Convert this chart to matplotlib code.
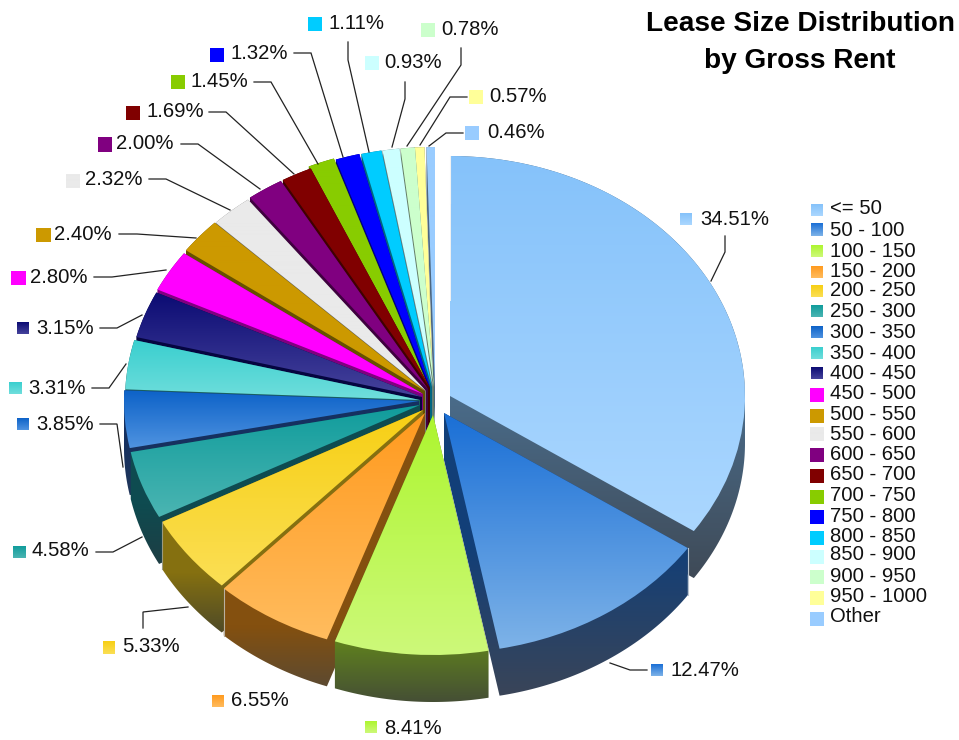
import numpy as np
import matplotlib
matplotlib.use("Agg")
import matplotlib.pyplot as plt
from matplotlib.colors import to_rgb
from matplotlib.patches import Polygon

# ---- data ----
categories = ["<= 50", "50 - 100", "100 - 150", "150 - 200", "200 - 250", "250 - 300", "300 - 350",
              "350 - 400", "400 - 450", "450 - 500", "500 - 550", "550 - 600", "600 - 650", "650 - 700",
              "700 - 750", "750 - 800", "800 - 850", "850 - 900", "900 - 950", "950 - 1000", "Other"]
shares = [34.51, 12.47, 8.41, 6.55, 5.33, 4.58, 3.85, 3.31, 3.15, 2.80, 2.40, 2.32, 2.00, 1.69,
          1.45, 1.32, 1.11, 0.93, 0.78, 0.57, 0.46]
title_lines = ["Lease Size Distribution", "by Gross Rent"]

# ---- style: surface gradient (top, bottom) and side wall gradient ----
face_top = ["#85C2FA", "#1A6FD6", "#ADF52F", "#FF9A1E", "#F7CF14", "#109C9C", "#0D62C8", "#3ACFCF", "#0B0B73",
            "#FF00FF", "#CC9900", "#EAEAEA", "#800080", "#800000", "#88CC00", "#0000FF", "#00CCFF", "#CCFFFF",
            "#CCFFCC", "#FFFF99", "#99CCFF"]
face_bot = ["#ABD7FF", "#7EB3E8", "#CDF97A", "#FFBC5E", "#FBDF55", "#4BB5B2", "#4F93E0", "#70DEDC", "#46439C",
            "#FF00FF", "#CC9900", "#EAEAEA", "#800080", "#800000", "#88CC00", "#0000FF", "#00CCFF", "#CCFFFF",
            "#CCFFCC", "#FFFF99", "#99CCFF"]
wall_top = ["#4A6C8A", "#123F78", "#5F801E", "#84500F", "#857010", "#0E4B50", "#153060", "#1A6060", "#050540",
            "#800080", "#665000", "#777777", "#400040", "#400000", "#446600", "#000080", "#006680", "#667F7F",
            "#668066", "#808050", "#4C6680"]
wall_bot = ["#3F4A57", "#3A4558", "#454F35", "#5D4A30", "#4E4A28", "#1E3E44", "#20365A", "#1A6060", "#050540",
            "#800080", "#665000", "#777777", "#400040", "#400000", "#446600", "#000080", "#006680", "#667F7F",
            "#668066", "#808050", "#4C6680"]
wall_span = [182, 150, 60, 60, 60, 60, 60, 60, 60, 60, 60, 60, 60, 60, 60, 60, 60, 60, 60, 60, 60]

# ---- layout, in pixels of the 959x740 image ----
W, H = 959, 740
CX, CY, RX, RY = 430, 387, 295, 240
DEPTH = 47
apex = [(450, 396), (444, 413), (433, 415), (425, 413), (423, 410), (420, 405), (419, 401), (420, 400),
        (422, 397), (423, 394), (425, 391), (426, 391), (428, 389), (430, 388), (428, 386), (430, 387),
        (432, 387), (433, 387), (434, 387), (433, 387), (435, 387)]
label_swatch = [(686, 219), (657, 670), (371, 727), (218, 701), (109, 648), (19, 552), (23, 424), (15, 388),
                (23, 328), (18, 278), (43, 235), (73, 181), (105, 145), (133, 113), (178, 82), (217, 55),
                (315, 24), (372, 63), (428, 30), (476, 97), (472, 133)]
label_text = [(700, 219), (670, 670), (384, 728), (231, 700), (122, 647), (32, 551), (36, 424), (28, 388),
              (36, 328), (30, 277), (54, 234), (85, 179), (116, 143), (146, 111), (191, 81), (230, 53),
              (328, 23), (384, 62), (441, 29), (489, 96), (487, 132)]
leaders = [[(725, 236), (725, 252), (711, 281)], [(610, 663), (630, 670), (647, 670)], None, None,
           [(143, 628), (143, 612), (188, 607)], [(96, 552), (113, 552), (142, 537)],
           [(100, 424), (117, 424), (123, 467)], [(92, 388), (109, 388), (126, 364)],
           [(100, 328), (117, 328), (142, 315)], [(94, 277), (112, 277), (166, 270)],
           [(119, 234), (137, 234), (196, 238)], [(149, 179), (166, 179), (230, 210)],
           [(181, 144), (198, 144), (260, 189)], [(209, 112), (226, 112), (294, 174)],
           [(254, 82), (271, 82), (318, 164)], [(294, 53), (311, 53), (343, 157)],
           [(348, 42), (348, 60), (369, 152)], [(405, 82), (405, 99), (392, 147)],
           [(461, 48), (461, 65), (407, 146)], [(467, 97), (450, 97), (420, 145)],
           [(463, 133), (446, 133), (429, 146)]]
legend_text_y = [209, 230, 251, 271, 290, 311, 332, 353, 373, 393, 414, 434, 454, 474, 495, 516, 536, 555, 576, 597, 617]
legend_swatch_y = [210, 230, 251, 272, 291, 311, 332, 353, 373, 395, 416, 434, 455, 476, 497, 517, 538, 557, 577, 598, 619]
LEGEND_SW_X, LEGEND_TX_X = 817, 830
FONT = "Liberation Sans"
# slices whose cut corner shows a thin light seam: (slice index, use end angle, colour)
seams = [(0, True, "#F2F2F2"), (1, True, "#B8C4D0"), (3, False, "#B8B0A0"), (4, False, "#9A9A80")]


def ux(px):
    return (np.asarray(px, float) - CX) / RX


def uy(py):
    return (CY - np.asarray(py, float)) / RY


def lerp_rows(c0, c1, y_px, y0, y1):
    t = np.clip((y_px - y0) / max(y1 - y0, 1e-6), 0, 1)[:, None, None]
    return (1 - t) * np.array(to_rgb(c0))[None, None, :] + t * np.array(to_rgb(c1))[None, None, :]


def convex_hull(pts):
    pts = sorted(set(map(tuple, np.round(pts, 6))))
    def half(seq):
        out = []
        for p in seq:
            while len(out) > 1 and ((out[-1][0] - out[-2][0]) * (p[1] - out[-2][1])
                                    - (out[-1][1] - out[-2][1]) * (p[0] - out[-2][0])) <= 0:
                out.pop()
            out.append(p)
        return out[:-1]
    return np.array(half(pts) + half(pts[::-1]))


def gradient_fill(ax, clip, bbox_px, c0, c1, y0, y1, z):
    xa, xb, ya, yb = bbox_px
    rows = np.linspace(ya, yb, 400)
    im = ax.imshow(lerp_rows(c0, c1, rows, y0, y1), extent=(ux(xa), ux(xb), uy(yb), uy(ya)),
                   origin="upper", aspect="auto", interpolation="nearest", zorder=z)
    if clip is not None:
        im.set_clip_path(clip)
    return im


fig = plt.figure(figsize=(W / 100, H / 100), dpi=100, facecolor="white")
ax = fig.add_axes([0, 0, 1, 1])

wedges, _ = ax.pie(shares, startangle=90, counterclock=False, radius=1,
                   wedgeprops=dict(facecolor="none", edgecolor="none", linewidth=0))
ax.set_aspect("auto")

# back slices first, front slices last
mids = (np.cumsum(shares) - np.array(shares) / 2) / sum(shares) * 2 * np.pi
order = np.argsort(-np.cos(mids))
for rank, i in enumerate(order):
    w = wedges[i]
    ax_, ay_ = apex[i]
    cu = (float(ux(ax_)), float(uy(ay_)))
    w.set_center(cu)
    th = np.radians(np.linspace(w.theta1, w.theta2, 240))
    poly = np.vstack([[cu], np.c_[cu[0] + np.cos(th), cu[1] + np.sin(th)]])
    px_x = poly[:, 0] * RX + CX
    px_y = CY - poly[:, 1] * RY
    low = px_y.max()
    hull = convex_hull(np.vstack([poly, poly - [0, DEPTH / RY]]))
    wall = Polygon(hull, closed=True, facecolor="none", edgecolor="none", zorder=-1)
    ax.add_patch(wall)
    z = 10 + 3 * rank
    bbox = (px_x.min() - 2, px_x.max() + 2, px_y.min() - 2, low + DEPTH + 2)
    gradient_fill(ax, wall, bbox, wall_top[i], wall_bot[i], low + DEPTH - wall_span[i], low + DEPTH, z)
    w.set_zorder(z + 2)
    gradient_fill(ax, w, bbox, face_top[i], face_bot[i], px_y.min(), low, z + 1)

# light seams on the cut corners
for i, use_end, col in seams:
    w = wedges[i]
    cu = w.center
    t = np.radians(w.theta2 if use_end else w.theta1)
    ex, ey = cu[0] + np.cos(t), cu[1] + np.sin(t)
    z = 10 + 3 * int(np.where(order == i)[0][0]) + 2
    ax.plot([ex, ex], [ey, ey - DEPTH / RY], color=col, lw=0.8, zorder=z)
    if i == 0:
        ax.plot([cu[0] + 0.4 * (ex - cu[0]), ex], [cu[1] + 0.4 * (ey - cu[1]), ey], color=col, lw=0.7, zorder=z)

# leader lines
for pts in leaders:
    if pts is not None:
        xy = np.array(pts, float)
        ax.plot(ux(xy[:, 0]), uy(xy[:, 1]), color="#222222", lw=0.9, zorder=200, solid_joinstyle="miter")


def swatch(cx, cy, i):
    half = 6 if face_top[i] != face_bot[i] else 7
    gradient_fill(ax, None, (cx - half, cx + half, cy - half, cy + half),
                  face_top[i], face_bot[i], cy - half, cy + half, 210)


# data labels
for i, v in enumerate(shares):
    swatch(*label_swatch[i], i)
    ax.text(ux(label_text[i][0]), uy(label_text[i][1]), f"{v:.2f}%", family=FONT, fontsize=14.6,
            ha="left", va="center", color="#111111", zorder=220)

# legend
for i, name in enumerate(categories):
    swatch(LEGEND_SW_X, legend_swatch_y[i], i)
    ax.text(ux(LEGEND_TX_X), uy(legend_text_y[i]), name, family=FONT, fontsize=14.6,
            ha="left", va="center", color="#111111", zorder=220)

# title
for line, y in zip(title_lines, (23.5, 60.5)):
    ax.text(ux(800), uy(y), line, family=FONT, fontsize=20.2, fontweight="bold",
            ha="center", va="center", color="black", zorder=220)

ax.set_xlim(ux(0), ux(W))
ax.set_ylim(uy(H), uy(0))
ax.set_xticks([])
ax.set_yticks([])
ax.set_frame_on(False)
fig.savefig("out.png", dpi=100, facecolor="white")
